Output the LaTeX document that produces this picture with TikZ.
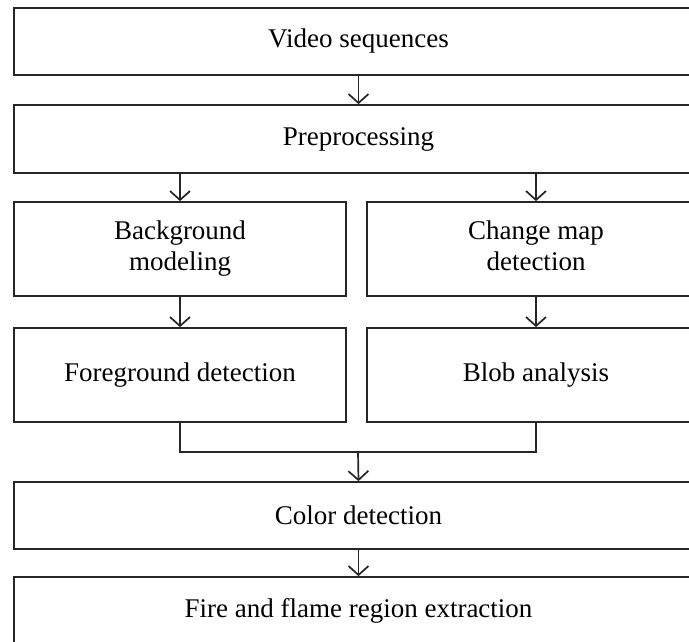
\documentclass[tikz,border=0pt]{standalone}
\usepackage{fontspec}
\setmainfont{Liberation Serif}
\usetikzlibrary{arrows.meta}
\begin{document}
\begin{tikzpicture}[x=1pt,y=-1pt,
  box/.style={draw=black!85, line width=1.7pt, fill=white, inner sep=0pt,
    font=\fontsize{27}{31}\selectfont, align=center},
  wide/.style={box, minimum width=689pt},
  half/.style={box, minimum width=332pt, minimum height=94pt},
  link/.style={draw=black!85, line width=1.7pt},
  arr/.style={link, -{Straight Barb[length=9pt,width=20pt,line width=1.7pt]}}]
\useasboundingbox (0,0) rectangle (689,642);
\clip (0,0) rectangle (689,642);
\fill[white] (0,0) rectangle (689,642);

\node[wide, minimum height=67pt] (vid) at (358.5,41.5) {Video sequences};
\node[wide, minimum height=68pt] (pre) at (358.5,139) {Preprocessing};
\node[half] (bgm) at (180,249) {Background\\modeling};
\node[half, minimum width=338pt] (cmd) at (536,249) {\vphantom{Bg}Change map\\detection\vphantom{g}};
\node[half] (fgd) at (180,375) {Foreground detection};
\node[half, minimum width=338pt] (blob) at (536,375) {Blob analysis};
\node[wide, minimum height=67pt] (col) at (358.5,515.5) {Color detection};
\node[wide, minimum height=128pt] (fire) at (358.5,641) {};
\node[font=\fontsize{27}{31}\selectfont] (firetxt) at (358.5,611) {Fire and flame region extraction};

\coordinate (merge) at (358,452);

\draw[arr] (vid.south) -- (pre.north);
\draw[arr] (pre.south -| bgm.north) -- (bgm.north);
\draw[arr] (pre.south -| cmd.north) -- (cmd.north);
\draw[arr] (bgm.south) -- (fgd.north);
\draw[arr] (cmd.south) -- (blob.north);
\draw[link] (fgd.south) |- (merge) -| (blob.south);
\draw[arr] (merge) -- (col.north);
\draw[arr] (col.south) -- (fire.north);
\end{tikzpicture}
\end{document}
